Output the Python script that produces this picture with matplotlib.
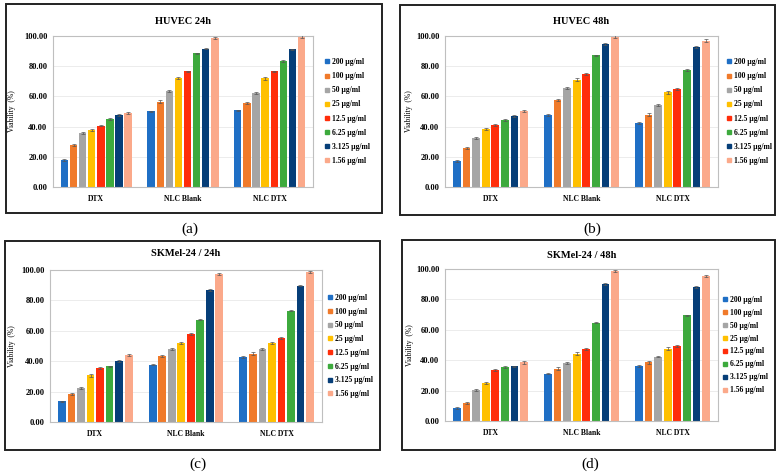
import numpy as np
import matplotlib.pyplot as plt
from matplotlib.lines import Line2D
from matplotlib.patches import Rectangle

groups = ["DTX", "NLC Blank", "NLC DTX"]
conc = ["200 µg/ml", "100 µg/ml", "50 µg/ml", "25 µg/ml",
        "12.5 µg/ml", "6.25 µg/ml", "3.125 µg/ml", "1.56 µg/ml"]
colors = ['#1F6FC5', '#F07A2A', '#A5A5A5', '#FFC000',
          '#FF2D0A', '#3DAA3D', '#063E78', '#FBA98A']

# viability (%) per group, 8 concentrations each
huvec_24 = [[18.0, 28.0, 35.8, 37.8, 40.7, 45.2, 47.8, 49.0],
            [50.0, 56.5, 63.5, 72.2, 76.5, 88.5, 91.7, 98.5],
            [50.7, 55.6, 62.3, 72.0, 76.5, 83.6, 91.2, 99.8]]
huvec_48 = [[17.0, 26.0, 32.5, 38.5, 41.0, 44.5, 47.0, 50.5],
            [47.5, 57.5, 65.5, 71.0, 75.0, 87.2, 94.6, 99.6],
            [42.5, 48.0, 54.2, 62.8, 65.0, 77.5, 92.8, 97.0]]
skmel_24 = [[13.5, 18.5, 22.3, 30.8, 35.5, 36.6, 40.0, 44.0],
            [37.8, 43.5, 48.2, 52.0, 58.0, 67.3, 87.0, 97.3],
            [42.5, 45.0, 48.0, 52.0, 55.5, 73.2, 89.7, 98.7]]
skmel_48 = [[8.8, 11.8, 20.3, 25.0, 33.3, 35.4, 36.0, 38.5],
            [31.2, 34.5, 38.0, 44.2, 47.5, 64.7, 90.3, 98.6],
            [36.2, 38.6, 42.4, 47.5, 49.2, 69.5, 88.0, 95.5]]
err = [0.6, 0.8, 0.6, 0.9, 0.6, 0.5, 0.5, 0.8]

titles = ["HUVEC 24h", "HUVEC 48h", "SKMel-24 / 24h", "SKMel-24 / 48h"]
datasets = [huvec_24, huvec_48, skmel_24, skmel_48]
panel_tags = ["(a)", "(b)", "(c)", "(d)"]

W, H = 780, 476
plt.rcParams['font.family'] = ['Liberation Serif', 'DejaVu Serif']
plt.rcParams['font.weight'] = 'bold'

fig = plt.figure(figsize=(W / 100, H / 100), dpi=100)

# pixel layout: box, axes, title y, legend x, legend spacing, ylabel x, tag position
layout = [
    dict(box=(6, 4, 382, 213), ax=(53, 36, 313, 187), ty=21, lx=325, ls=0.8, yl=16, tag=(190, 229)),
    dict(box=(400, 5, 775, 215), ax=(445, 36, 718, 187), ty=21, lx=727, ls=0.8, yl=413, tag=(592, 229)),
    dict(box=(5, 241, 380, 450), ax=(50, 270, 322, 422), ty=254, lx=328, ls=0.75, yl=16, tag=(198, 464)),
    dict(box=(402, 240, 775, 450), ax=(445, 269, 718, 421), ty=255, lx=723, ls=0.65, yl=414, tag=(590, 464)),
]


def fx(px):
    return px / W


def fy(py):
    return 1 - py / H


x = np.arange(len(groups))
slot = 0.105
bw = 0.085

for data, title, tag, L in zip(datasets, titles, panel_tags, layout):
    bl, bt, br, bb = L['box']
    fig.patches.append(Rectangle((fx(bl), fy(bb)), fx(br - bl), (bb - bt) / H,
                                 transform=fig.transFigure, fill=False,
                                 edgecolor='#222222', linewidth=1.4))
    al, at, ar, ab = L['ax']
    ax = fig.add_axes([fx(al), fy(ab), fx(ar - al), (ab - at) / H])
    vals = np.array(data)
    for i in range(len(conc)):
        pos = x + (i - 3.5) * slot
        ax.bar(pos, vals[:, i], width=bw, color=colors[i], zorder=2)
        ax.errorbar(pos, vals[:, i], yerr=err[i], fmt='none', ecolor='#555555',
                    elinewidth=0.5, capsize=1.2, capthick=0.5, zorder=3)
    ax.set_xlim(-0.5, 2.5)
    ax.set_ylim(0, 100)
    ax.set_yticks(np.arange(0, 101, 20))
    ax.set_yticklabels([f"{v:.2f}" for v in np.arange(0, 101, 20)], fontsize=6)
    ax.set_xticks(x)
    ax.set_xticklabels(groups, fontsize=5.5)
    ax.tick_params(axis='both', length=0, pad=4)
    ax.tick_params(axis='x', pad=6)
    ax.grid(axis='y', color='#E4E4E4', linewidth=0.5, zorder=0)
    for s in ax.spines.values():
        s.set_color('#BFBFBF')
        s.set_linewidth(0.8)
    ax.set_ylabel("Viability  (%)", fontsize=5.5)
    ax.yaxis.set_label_coords((L['yl'] - al) / (ar - al), 0.5)
    fig.text(fx((al + ar) / 2), fy(L['ty']), title, ha='center', va='center',
             fontsize=7.5, fontweight='bold')
    handles = [Line2D([], [], marker='s', linestyle='none', markersize=2.6,
                      markerfacecolor=c, markeredgecolor=c) for c in colors]
    fig.legend(handles, conc, loc='center left',
               bbox_to_anchor=(fx(L['lx']), fy((at + ab) / 2)),
               frameon=False, fontsize=5.5, handlelength=0.6, handletextpad=0.3,
               labelspacing=L['ls'], borderpad=0, borderaxespad=0)
    fig.text(fx(L['tag'][0]), fy(L['tag'][1]), tag, ha='center', va='center',
             fontsize=11, fontweight='normal')

fig.savefig("out.png", dpi=100)
